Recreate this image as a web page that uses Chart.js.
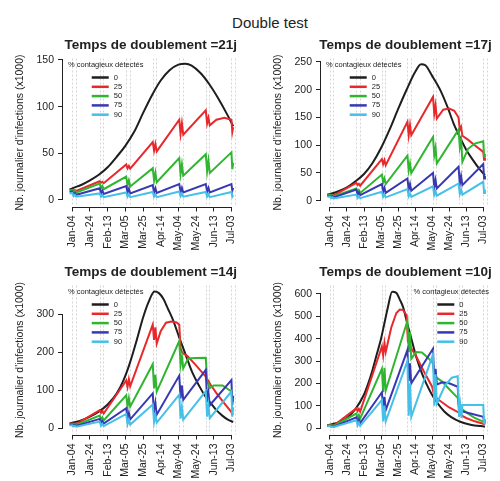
<!DOCTYPE html>
<html>
<head>
<meta charset="utf-8">
<script src="https://cdn.jsdelivr.net/npm/chart.js@4.4.1/dist/chart.umd.min.js"></script>
<style>
  body { margin: 0; background: #fff; }
  #wrap { position: relative; width: 500px; height: 481px; overflow: hidden; }
  #wrap canvas { position: absolute; }
  #main { position: absolute; left: 0; top: 14px; width: 540px; text-align: center;
          font: 15px "Liberation Sans", Arial, sans-serif; line-height: 17px; color: #222; }
</style>
</head>
<body>
<div id="wrap">
  <div id="main">Double test</div>
  <canvas id="c21" style="left:0;top:0" width="250" height="262"></canvas>
  <canvas id="c17" style="left:250px;top:0" width="250" height="262"></canvas>
  <canvas id="c14" style="left:0;top:240px" width="250" height="241"></canvas>
  <canvas id="c10" style="left:250px;top:240px" width="250" height="241"></canvas>
</div>
<script>
// days counted from Jan-04, one label every 20 days
const xLabels = ['Jan-04', 'Jan-24', 'Feb-13', 'Mar-05', 'Mar-25', 'Apr-14', 'May-04', 'May-24', 'Jun-13', 'Jul-03'];
const pctLabels = ['0', '25', '50', '75', '90'];
// double tests, a few days apart
const testDays = [0, 4, 31, 35, 61, 65, 91, 95, 121, 125, 151, 155, 180, 184];

// doubling time 21 days
const d21_0 = [[-3,11],[0,12.5],[10,16],[20,21],[30,27],[40,35],[50,46],[60,58],[70,73],[80,93],[90,112],[100,128],[110,139],[120,145],[128,146],[135,144],[145,136],[155,124],[165,109],[175,92],[182,79]];
const d21_25 = [[-3,10.5],[0,11],[1.5,10],[3,10.5],[4.5,9.8],[31,20],[32.5,18.5],[34,19.5],[35.5,18],[61,38],[62.5,34],[64,36.5],[65.5,33.5],[91,62],[92.5,53],[94,60],[95.5,52],[121,86],[122.5,71],[124,82],[125.5,70],[151,96],[152.5,82],[154,88],[155.5,80],[163,86],[172,88],[180,86],[181,73],[182,78]];
const d21_50 = [[-3,10],[0,10.5],[1.5,8.5],[3,9.5],[4.5,8],[31,17.5],[32.5,12.5],[34,15],[35.5,11.5],[61,25],[62.5,16],[64,21],[65.5,14.5],[91,34],[92.5,21],[94,29],[95.5,19],[121,45],[122.5,28],[124,38],[125.5,26],[151,49],[152.5,31],[154,42],[155.5,29],[180,51],[181,33],[182,40]];
const d21_75 = [[-3,8.5],[0,9],[1.5,6],[3,7.5],[4.5,5.5],[31,12.5],[32.5,7],[34,10],[35.5,6.5],[61,15],[62.5,8],[64,12],[65.5,7],[91,16],[92.5,8],[94,12.5],[95.5,7.5],[121,17],[122.5,8.5],[124,13],[125.5,8],[151,17],[152.5,9],[154,13],[155.5,8],[180,17],[181,10],[182,13]];
const d21_90 = [[-3,7],[0,7.5],[1.5,4],[3,5.5],[4.5,3.5],[31,7],[32.5,3.5],[34,5.5],[35.5,3],[61,8],[62.5,3.5],[64,6],[65.5,3],[91,8.5],[92.5,3.5],[94,6],[95.5,3],[121,9],[122.5,4],[124,6.5],[125.5,3.5],[151,8.5],[152.5,3.5],[154,6],[155.5,3],[180,8.5],[181,3.5],[182,5]];

// doubling time 17 days
const d17_0 = [[-3,11],[0,12],[10,17],[20,24],[30,35],[40,48],[50,68],[60,95],[70,128],[80,165],[90,200],[100,232],[107,246],[112,244],[120,225],[130,198],[138,169],[145,140],[153,113],[160,92],[168,73],[175,58],[182,46]];
const d17_25 = [[-3,10.5],[0,11],[1.5,10],[3,10.5],[4.5,9.5],[31,32],[32.5,28],[34,30.5],[35.5,27],[61,75],[62.5,66],[64,73],[65.5,64],[91,142],[92.5,118],[94,136],[95.5,118],[121,187],[122.5,157],[124,172],[125.5,148],[133,164],[140,166],[146,162],[151,150],[152.5,128],[154,133],[155.5,117],[162,110],[170,100],[180,88],[181,74],[182,78]];
const d17_50 = [[-3,10],[0,10.5],[1.5,8.5],[3,9.5],[4.5,8],[31,22],[32.5,15],[34,19],[35.5,14],[61,47],[62.5,33],[64,40],[65.5,30],[91,81],[92.5,55],[94,67],[95.5,50],[121,115],[122.5,82],[124,95],[125.5,67],[151,128],[152.5,97],[154,110],[155.5,70],[162,93],[170,103],[180,107],[181,80],[182,84]];
const d17_75 = [[-3,8.5],[0,9],[1.5,6.5],[3,8],[4.5,6],[31,20],[32.5,11],[34,15],[35.5,10],[61,30],[62.5,16],[64,23],[65.5,14],[91,40],[92.5,20],[94,30],[95.5,18],[121,50],[122.5,24],[124,37],[125.5,22],[151,61],[152.5,30],[154,44],[155.5,28],[180,66],[181,40],[182,45]];
const d17_90 = [[-3,7],[0,7.5],[1.5,4.5],[3,6],[4.5,4],[31,11],[32.5,5],[34,8],[35.5,4.5],[61,16],[62.5,7],[64,11],[65.5,6],[91,21],[92.5,8],[94,13],[95.5,7],[121,26],[122.5,10],[124,16],[125.5,9],[151,31],[152.5,12],[154,20],[155.5,11],[180,34],[181,14],[182,20]];

// doubling time 14 days
const d14_0 = [[-3,12],[0,14],[10,20],[20,30],[30,43],[40,62],[50,90],[58,126],[65,170],[73,232],[80,290],[86,330],[93,359],[98,355],[103,340],[108,315],[114,284],[121,238],[129,188],[136,145],[144,109],[150,85],[157,64],[163,47],[170,32],[176,22],[182,16]];
const d14_25 = [[-3,11],[0,12],[1.5,11],[3,11.5],[4.5,10.5],[31,47],[32.5,40],[34,45],[35.5,38],[61,125],[62.5,108],[64,128],[65.5,110],[91,272],[92.5,232],[94,265],[95.5,222],[100,255],[106,277],[112,280],[118,278],[121,272],[122.5,210],[124,200],[125.5,196],[130,190],[140,165],[151,135],[152.5,122],[154,125],[155.5,117],[163,92],[172,65],[180,42],[181,36],[182,38]];
const d14_50 = [[-3,10],[0,11],[1.5,9],[3,10],[4.5,8.5],[31,33],[32.5,22],[34,28],[35.5,20],[61,86],[62.5,56],[64,78],[65.5,56],[91,168],[92.5,104],[94,140],[95.5,96],[121,229],[122.5,166],[124,188],[125.5,157],[131,183],[140,184],[151,185],[152.5,122],[154,115],[155.5,105],[160,112],[170,112],[180,96],[181,70],[182,75]];
const d14_75 = [[-3,8.5],[0,9],[1.5,6],[3,7.5],[4.5,5.5],[31,24],[32.5,13],[34,18],[35.5,12],[61,52],[62.5,25],[64,40],[65.5,23],[91,91],[92.5,38],[94,65],[95.5,35],[121,138],[122.5,78],[124,112],[125.5,74],[151,153],[152.5,68],[154,92],[155.5,60],[180,126],[181,60],[182,85]];
const d14_90 = [[-3,7],[0,7.5],[1.5,4],[3,5.5],[4.5,3.5],[31,17],[32.5,6],[34,11],[35.5,5],[61,37],[62.5,10],[64,22],[65.5,9],[91,62],[92.5,16],[94,35],[95.5,14],[121,88],[122.5,25],[124,55],[125.5,22],[151,97],[152.5,30],[154,60],[155.5,26],[180,96],[181,30],[182,55]];

// doubling time 10 days
const d10_0 = [[-3,12],[0,15],[10,25],[20,45],[30,85],[40,150],[45,200],[50,260],[55,330],[60,400],[64,470],[68,540],[73,610],[78,605],[82,575],[86,540],[91,465],[97,379],[102,310],[108,245],[113,200],[119,155],[126,113],[134,75],[142,50],[153,28],[165,15],[182,6]];
const d10_25 = [[-3,11],[0,13],[1.5,12],[3,12.5],[4.5,11.5],[31,88],[32.5,76],[34,86],[35.5,74],[61,365],[62.5,325],[64,380],[65.5,340],[72,450],[78,515],[82,530],[86,528],[90,505],[91.5,390],[93,395],[94.5,362],[100,330],[110,255],[120,185],[121.5,160],[123,150],[124.5,135],[130,120],[140,92],[151,70],[152.5,60],[160,45],[170,30],[182,17]];
const d10_50 = [[-3,10],[0,12],[1.5,10],[3,11],[4.5,9.5],[31,65],[32.5,45],[34,58],[35.5,42],[61,265],[62.5,160],[64,270],[65.5,168],[91,480],[92.5,340],[94,430],[95.5,310],[101,340],[108,338],[115,315],[121,290],[122.5,240],[124,235],[125.5,225],[131,210],[141,170],[150,135],[151.5,95],[153,90],[160,70],[170,45],[182,25]];
const d10_75 = [[-3,9],[0,10],[1.5,7],[3,9],[4.5,6.5],[31,48],[32.5,25],[34,38],[35.5,22],[61,160],[62.5,85],[64,140],[65.5,80],[91,350],[92.5,210],[94,290],[95.5,200],[121,355],[122.5,215],[124,265],[125.5,195],[132,205],[140,200],[150,185],[151.5,85],[153,95],[154.5,75],[165,65],[180,50],[181,28],[182,35]];
const d10_90 = [[-3,8],[0,9],[1.5,5],[3,7],[4.5,4.5],[31,35],[32.5,12],[34,24],[35.5,10],[61,125],[62.5,30],[64,100],[65.5,30],[91,300],[92.5,55],[94,200],[95.5,50],[121,330],[122.5,100],[124,240],[125.5,110],[135,190],[143,225],[150,232],[151.5,50],[153,103],[154.5,45],[155.5,103],[180,103],[181,20],[182,40]];

const yTicks21 = [0, 50, 100, 150];
const yTicks17 = [0, 50, 100, 150, 200, 250];
const yTicks14 = [0, 100, 200, 300];
const yTicks10 = [0, 100, 200, 300, 400, 500, 600];

const colors = ['#1e1e1e', '#e8282b', '#2fb52f', '#3838b4', '#45c0e8'];
const ink = '#222';
const FONT = '"Liberation Sans", Arial, sans-serif';

const decor = {
  id: 'decor',
  beforeDatasetsDraw(chart) {
    const { ctx, chartArea: a, scales: { x } } = chart;
    ctx.save();
    ctx.strokeStyle = '#d6d6d6';
    ctx.lineWidth = 1;
    ctx.setLineDash([2, 2]);
    testDays.forEach(d => {
      const px = Math.round(x.getPixelForValue(d)) + 0.5;
      ctx.beginPath();
      ctx.moveTo(px, a.top);
      ctx.lineTo(px, a.bottom);
      ctx.stroke();
    });
    ctx.restore();
  },
  afterDraw(chart, args, o) {
    const { ctx, chartArea: a, scales: { x, y } } = chart;
    ctx.save();
    // axis lines only cover the tick range
    ctx.strokeStyle = ink;
    ctx.lineWidth = 1;
    const ax = Math.round(a.left) - 0.5;
    ctx.beginPath();
    ctx.moveTo(ax, y.getPixelForValue(o.yTicks[0]));
    ctx.lineTo(ax, y.getPixelForValue(o.yTicks[o.yTicks.length - 1]));
    const ay = Math.round(a.bottom) + 0.5;
    ctx.moveTo(x.getPixelForValue(0), ay);
    ctx.lineTo(x.getPixelForValue(180), ay);
    ctx.stroke();

    ctx.fillStyle = ink;
    ctx.textBaseline = 'middle';
    ctx.textAlign = 'center';
    ctx.font = 'bold 13.5px ' + FONT;
    ctx.fillText(o.title, (a.left + a.right) / 2, a.top - 13);

    ctx.font = '10.5px ' + FONT;
    ctx.translate(a.left - 43, (a.top + a.bottom) / 2);
    ctx.rotate(-Math.PI / 2);
    ctx.fillText("Nb. journalier d'infections (x1000)", 0, 0);
    ctx.setTransform(1, 0, 0, 1, 0, 0);

    // legend
    ctx.font = '7.5px ' + FONT;
    const lt = '% contagieux détectés';
    const w = ctx.measureText(lt).width;
    const left = o.legendRight ? a.right - 1 - w : a.left + 5;
    const cx = left + w / 2;
    ctx.textAlign = 'left';
    ctx.fillText(lt, left, a.top + 6);
    pctLabels.forEach((l, i) => {
      const ry = a.top + 19 + i * 9.3;
      ctx.strokeStyle = colors[i];
      ctx.lineWidth = 2.5;
      ctx.beginPath();
      ctx.moveTo(cx - 14, ry);
      ctx.lineTo(cx + 3, ry);
      ctx.stroke();
      ctx.fillText(l, cx + 8, ry);
    });
    ctx.restore();
  }
};

function panel(id, p) {
  const tickFont = { family: FONT, size: 10.5 };
  return new Chart(document.getElementById(id), {
    type: 'line',
    data: {
      datasets: p.series.map((s, i) => ({
        label: pctLabels[i],
        data: s,
        borderColor: colors[i],
        borderWidth: 2,
        pointRadius: 0,
        tension: 0,
        cubicInterpolationMode: i === 0 ? 'monotone' : 'default',
        order: 5 - i
      }))
    },
    options: {
      responsive: false,
      animation: false,
      events: [],
      layout: { padding: { top: p.top, right: p.right, left: 0, bottom: 0 } },
      plugins: {
        legend: { display: false },
        tooltip: { enabled: false },
        decor: { title: p.title, yTicks: p.yTicks, legendRight: p.legendRight }
      },
      scales: {
        x: {
          type: 'linear',
          bounds: 'data',
          min: -10.5,
          max: 188,
          afterBuildTicks: s => { s.ticks = xLabels.map((l, i) => ({ value: i * 20 })); },
          afterFit: s => { s.height = p.xh; },
          ticks: { minRotation: 90, maxRotation: 90, autoSkip: false, padding: 4, color: ink, font: tickFont,
                   callback: (v, i) => xLabels[i] },
          grid: { drawOnChartArea: false, tickLength: 5, color: ink },
          border: { display: false }
        },
        y: {
          bounds: 'data',
          min: p.ymin,
          max: p.ymax,
          afterBuildTicks: s => { s.ticks = p.yTicks.map(v => ({ value: v })); },
          afterFit: s => { s.width = p.yw; },
          ticks: { padding: 4, color: ink, font: tickFont },
          grid: { drawOnChartArea: false, tickLength: 5, color: ink },
          border: { display: false }
        }
      }
    },
    plugins: [decor]
  });
}

panel('c21', { title: 'Temps de doublement =21j', series: [d21_0, d21_25, d21_50, d21_75, d21_90],
  yTicks: yTicks21, ymin: -7, ymax: 151.6, top: 58.5, right: 11.5, yw: 63, xh: 55.5 });
panel('c17', { title: 'Temps de doublement =17j', series: [d17_0, d17_25, d17_50, d17_75, d17_90],
  yTicks: yTicks17, ymin: -10.5, ymax: 256.3, top: 58.5, right: 4, yw: 71, xh: 55.5 });
panel('c14', { title: 'Temps de doublement =14j', series: [d14_0, d14_25, d14_50, d14_75, d14_90],
  yTicks: yTicks14, ymin: -17, ymax: 375, top: 45.5, right: 11.5, yw: 63, xh: 46.5 });
panel('c10', { title: 'Temps de doublement =10j', series: [d10_0, d10_25, d10_50, d10_75, d10_90],
  yTicks: yTicks10, ymin: -29, ymax: 638, top: 45.5, right: 4, yw: 71, xh: 46.5, legendRight: true });
</script>
</body>
</html>
